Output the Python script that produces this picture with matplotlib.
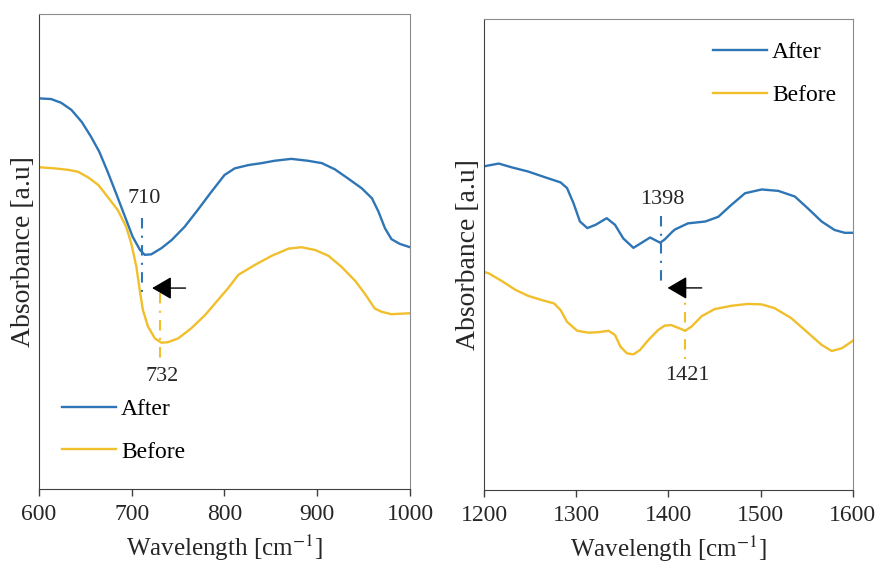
import matplotlib
matplotlib.use("Agg")
import matplotlib.pyplot as plt

plt.rcParams['font.family'] = ['Liberation Serif', 'DejaVu Serif']
plt.rcParams['mathtext.fontset'] = 'stix'

BLUE = '#2E75B6'
YELLOW = '#F0BF2B'

# left panel: 600-1000 cm-1
wl_left_after = [600, 602.5, 613, 624, 635, 646, 656, 665, 674, 683, 692, 701, 709, 714,
                 721, 732, 743, 757, 771, 786, 800, 811, 826, 840, 854, 872, 890, 905,
                 919, 933, 948, 959, 966, 973, 980, 989, 1000]
abs_left_after = [0.823, 0.822, 0.821, 0.813, 0.798, 0.773, 0.742, 0.710, 0.668, 0.623,
                  0.577, 0.531, 0.503, 0.493, 0.494, 0.507, 0.524, 0.552, 0.587, 0.626,
                  0.661, 0.675, 0.682, 0.686, 0.691, 0.695, 0.691, 0.686, 0.673, 0.654,
                  0.633, 0.612, 0.584, 0.549, 0.526, 0.516, 0.509]

wl_left_before = [600, 602.5, 617, 631, 642, 653, 664, 674, 685, 694, 699.5, 705, 708.6,
                  712, 717.5, 725, 732, 739, 750, 764, 779, 793, 804, 815, 833, 851, 869,
                  883, 898, 912, 926, 941, 951, 962, 969.5, 980, 1000]
abs_left_before = [0.678, 0.677, 0.675, 0.672, 0.668, 0.656, 0.640, 0.615, 0.587, 0.552,
                   0.517, 0.468, 0.419, 0.377, 0.342, 0.317, 0.308, 0.309, 0.317, 0.338,
                   0.366, 0.398, 0.423, 0.451, 0.472, 0.491, 0.506, 0.509, 0.503, 0.491,
                   0.468, 0.438, 0.412, 0.380, 0.373, 0.368, 0.370]

# right panel: 1200-1600 cm-1
wl_right_after = [1200, 1205, 1216, 1230, 1248, 1266, 1283, 1290, 1297, 1304, 1312, 1321,
                  1333, 1342, 1351, 1362, 1371, 1380, 1391, 1396, 1404, 1407, 1421, 1440,
                  1454, 1468, 1483, 1501, 1519, 1537, 1551, 1566, 1580, 1591, 1600]
abs_right_after = [0.687, 0.689, 0.693, 0.685, 0.676, 0.664, 0.653, 0.641, 0.609, 0.570,
                   0.556, 0.563, 0.577, 0.563, 0.534, 0.514, 0.525, 0.536, 0.525, 0.532,
                   0.548, 0.553, 0.566, 0.570, 0.580, 0.605, 0.630, 0.638, 0.635, 0.623,
                   0.598, 0.570, 0.552, 0.546, 0.546]

wl_right_before = [1200, 1205, 1219, 1234, 1248, 1263, 1276, 1283, 1290, 1301, 1313, 1324,
                   1335, 1342, 1348, 1355, 1362, 1369, 1378, 1389, 1396, 1403, 1412, 1418,
                   1425, 1436, 1450, 1468, 1486, 1501, 1515, 1533, 1551, 1566, 1577, 1588,
                   1600]
abs_right_before = [0.463, 0.460, 0.444, 0.425, 0.412, 0.403, 0.396, 0.382, 0.357, 0.338,
                    0.334, 0.335, 0.338, 0.329, 0.304, 0.290, 0.288, 0.297, 0.318, 0.340,
                    0.349, 0.350, 0.343, 0.338, 0.347, 0.369, 0.384, 0.391, 0.395, 0.394,
                    0.386, 0.365, 0.334, 0.308, 0.295, 0.301, 0.317]

fig = plt.figure(figsize=(8.8, 5.71), dpi=100)
ax1 = fig.add_axes([0.0443, 0.1436, 0.4216, 0.8319])
ax2 = fig.add_axes([0.55, 0.1419, 0.4193, 0.8249])

dashdot = (0, (5, 3.5, 1, 3.5))


def style_axes(ax, xlim, ticks):
    ax.set_xlim(*xlim)
    ax.set_ylim(0, 1)
    ax.set_xticks(ticks)
    ax.set_yticks([])
    ax.tick_params(axis='x', direction='out', length=5, width=1, pad=6, labelsize=17,
                   colors='#404040', labelcolor='#262626')
    for side in ['top', 'right']:
        ax.spines[side].set_color('#8c8c8c')
    for side in ['left', 'bottom']:
        ax.spines[side].set_color('#404040')
    ax.set_xlabel('Wavelength [cm$^{-1}$]', fontsize=18, labelpad=5, color='#262626')
    ax.set_ylabel('Absorbance [a.u]', fontsize=20, labelpad=2, color='#262626')


def draw(ax, wa, aa, wb, ab):
    ax.plot(wa, aa, color=BLUE, lw=1.7, label='After', solid_joinstyle='round')
    ax.plot(wb, ab, color=YELLOW, lw=1.7, label='Before', solid_joinstyle='round')


arrow_props = dict(arrowstyle='-|>,head_length=0.6,head_width=0.35', color='black',
                   lw=1, mutation_scale=20, shrinkA=0, shrinkB=0)

# left panel
draw(ax1, wl_left_after, abs_left_after, wl_left_before, abs_left_before)
style_axes(ax1, (600, 1000), [600, 700, 800, 900, 1000])
ax1.plot([711, 711], [0.571, 0.413], color=BLUE, lw=1.5, ls=dashdot)
ax1.plot([731, 731], [0.413, 0.272], color=YELLOW, lw=1.5, ls=dashdot)
ax1.text(713, 0.611, '710', ha='center', va='center', fontsize=16, color='#262626')
ax1.text(733, 0.236, '732', ha='center', va='center', fontsize=16, color='#262626')
ax1.annotate('', xy=(722, 0.423), xytext=(758, 0.423), arrowprops=arrow_props)
ax1.legend(loc='center left', bbox_to_anchor=(0.037, 0.123), frameon=False, fontsize=17,
           handlelength=2.3, handletextpad=0.2, labelspacing=0.9, borderaxespad=0)

# right panel
draw(ax2, wl_right_after, abs_right_after, wl_right_before, abs_right_before)
style_axes(ax2, (1200, 1600), [1200, 1300, 1400, 1500, 1600])
ax2.plot([1391.5, 1391.5], [0.582, 0.442], color=BLUE, lw=1.5, ls=dashdot)
ax2.plot([1418, 1418], [0.435, 0.276], color=YELLOW, lw=1.5, ls=dashdot)
ax2.text(1393, 0.617, '1398', ha='center', va='center', fontsize=16, color='#262626')
ax2.text(1420, 0.242, '1421', ha='center', va='center', fontsize=16, color='#262626')
ax2.annotate('', xy=(1399, 0.429), xytext=(1436, 0.429), arrowprops=arrow_props)
ax2.legend(loc='center left', bbox_to_anchor=(0.595, 0.883), frameon=False, fontsize=17,
           handlelength=2.3, handletextpad=0.2, labelspacing=0.9, borderaxespad=0)

fig.savefig('out.png', dpi=100)
